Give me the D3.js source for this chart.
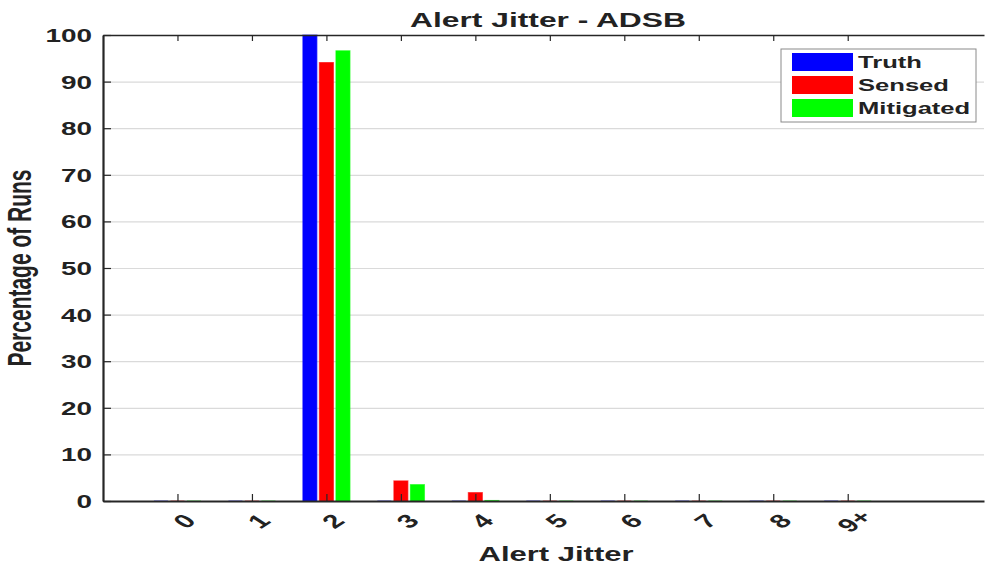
<!DOCTYPE html>
<html>
<head>
<meta charset="utf-8">
<script src="https://cdn.jsdelivr.net/npm/d3@7"></script>
<style>
  html, body { margin: 0; padding: 0; background: #fff; }
  svg { display: block; }
  text { font-family: Arial, "Liberation Sans", sans-serif; font-weight: bold; fill: #222; }
</style>
</head>
<body>
<svg id="chart" width="985" height="566"></svg>
<script>
// Alert jitter histogram, ADS-B source
const categories = ["0", "1", "2", "3", "4", "5", "6", "7", "8", "9+"];
const seriesNames = ["Truth", "Sensed", "Mitigated"];
const truth     = [0, 0, 100.0, 0,   0,   0, 0, 0, 0, 0];
const sensed    = [0, 0, 94.1,  4.3, 1.8, 0, 0, 0, 0, 0];
const mitigated = [0, 0, 96.6,  3.5, 0.1, 0, 0, 0, 0, 0];
const yTicks = [0, 10, 20, 30, 40, 50, 60, 70, 80, 90, 100];

const seriesValues = [truth, sensed, mitigated];
const colors = ["#0000ff", "#ff0000", "#00ff00"];

const svg = d3.select("#chart");
const plotLeft = 103, plotRight = 984, plotTop = 35, plotBottom = 501;
const sx = 1.55; // horizontal stretch of the lettering

const x = d3.scaleLinear().domain([-1, 10.83]).range([plotLeft, plotRight]);
const y = d3.scaleLinear().domain([0, 100]).range([plotBottom, plotTop]);
const idx = categories.map((_, i) => i);

// horizontal grid
const grid = svg.append("g").attr("transform", `translate(${plotLeft},0)`)
  .call(d3.axisLeft(y).tickValues(yTicks.filter(v => v > 0 && v < 100)).tickSize(-(plotRight - plotLeft)).tickFormat(""));
grid.select(".domain").remove();
grid.selectAll("line").attr("stroke", "#dadada").attr("stroke-width", 1.2);

// bars: each drawn as an outlined path so empty bins still show a line
const offsets = [-0.222, 0, 0.222];
const bw = 0.188;
seriesValues.forEach((vals, s) => {
  svg.append("g").selectAll("path").data(vals).join("path")
    .attr("d", (v, i) => {
      const x0 = x(i + offsets[s] - bw / 2), x1 = x(i + offsets[s] + bw / 2);
      const p = d3.path();
      p.rect(x0, y(v), x1 - x0, y(0) - y(v));
      return p.toString();
    })
    .attr("fill", colors[s])
    .attr("stroke", colors[s])
    .attr("stroke-opacity", 0.6)
    .attr("stroke-width", 1.2);
});

// y axis
const yAxis = svg.append("g").attr("transform", `translate(${plotLeft},0)`)
  .call(d3.axisLeft(y).tickValues(yTicks).tickSizeInner(-8).tickSizeOuter(0).tickPadding(0));
yAxis.select(".domain").attr("stroke", "#262626").attr("stroke-width", 2.2);
yAxis.selectAll("line").attr("stroke", "#262626").attr("stroke-width", 1.2);
yAxis.selectAll("text")
  .attr("x", 0).attr("dy", "0.36em")
  .attr("transform", `translate(-11,0) scale(${sx},1)`)
  .style("font-size", "18px").style("font-family", "Arial, 'Liberation Sans', sans-serif")
  .attr("fill", "#222");

// x axis
const xAxis = svg.append("g").attr("transform", `translate(0,${plotBottom})`)
  .call(d3.axisBottom(x).tickValues(idx).tickFormat(i => categories[i]).tickSizeInner(-7).tickSizeOuter(0));
xAxis.select(".domain").attr("stroke", "#262626").attr("stroke-width", 2.2);
xAxis.selectAll("line").attr("stroke", "#262626").attr("stroke-width", 1.2);
xAxis.selectAll("text")
  .attr("y", 0).attr("dy", "0.36em").attr("text-anchor", "middle")
  .attr("transform", `translate(6,20) scale(${sx},1) rotate(-45)`)
  .style("font-size", "19px").style("font-family", "Arial, 'Liberation Sans', sans-serif")
  .attr("fill", "#222");

// top box edge with ticks
const topAxis = svg.append("g").attr("transform", `translate(0,${plotTop})`)
  .call(d3.axisTop(x).tickValues(idx).tickFormat("").tickSizeInner(-6).tickSizeOuter(0));
topAxis.select(".domain").attr("stroke", "#262626").attr("stroke-width", 1.6);
topAxis.selectAll("line").attr("stroke", "#262626").attr("stroke-width", 1.2);

// title and axis labels
svg.append("text")
  .attr("transform", `translate(548,27) scale(${sx},1)`)
  .attr("text-anchor", "middle").style("font-size", "20.5px")
  .text("Alert Jitter - ADSB");

svg.append("text")
  .attr("transform", `translate(556,561) scale(${sx},1)`)
  .attr("text-anchor", "middle").style("font-size", "20px")
  .text("Alert Jitter");

svg.append("text")
  .attr("transform", `translate(31,268) scale(${sx},1) rotate(-90)`)
  .attr("text-anchor", "middle").style("font-size", "21px")
  .text("Percentage of Runs");

// legend
const lg = svg.append("g");
lg.append("rect").attr("x", 781).attr("y", 49).attr("width", 195).attr("height", 73)
  .attr("fill", "#fff").attr("stroke", "#8a8a8a").attr("stroke-width", 1);
seriesNames.forEach((name, s) => {
  const ry = 53 + s * 23;
  lg.append("rect").attr("x", 792).attr("y", ry).attr("width", 61).attr("height", 18)
    .attr("fill", colors[s]);
  lg.append("text")
    .attr("transform", `translate(858,${ry + 15}) scale(${sx},1)`)
    .style("font-size", "16.5px").text(name);
});
</script>
</body>
</html>
